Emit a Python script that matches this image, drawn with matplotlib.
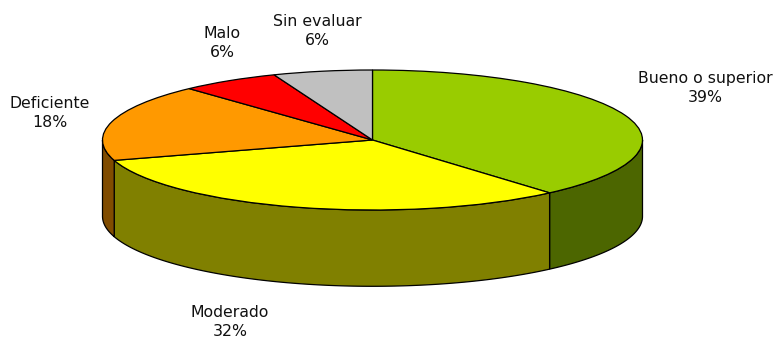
import numpy as np
import matplotlib
matplotlib.use('Agg')
import matplotlib.pyplot as plt
from matplotlib.patches import Polygon

# Estado de las masas de agua (porcentaje)
categorias = ['Bueno o superior', 'Moderado', 'Deficiente', 'Malo', 'Sin evaluar']
porcentajes = [39, 32, 18, 6, 6]
colores = ['#99CC00', '#FFFF00', '#FF9900', '#FF0000', '#C0C0C0']
colores_lado = ['#4C6600', '#808000', '#804C00', '#800000', '#606060']

# posiciones de las etiquetas (coordenadas de datos)
pos_etiquetas = [(1.232, 0.743), (-0.528, -2.6), (-1.194, 0.386), (-0.557, 1.386), (-0.204, 1.557)]

profundidad = 1.09  # grosor del disco, en unidades del radio vertical

fig = plt.figure(figsize=(7.81, 3.42), dpi=100)
ax = fig.add_axes([0, 0, 1, 1])

cunas, _ = ax.pie(porcentajes, colors=colores, startangle=90, counterclock=False,
                  wedgeprops=dict(edgecolor='black', linewidth=0.9), radius=1)
ax.set_aspect('auto')
ax.set_xlim(-372.5 / 270, (781 - 372.5) / 270)
ax.set_ylim(-(342 - 140) / 70, 140 / 70)
ax.axis('off')

# caras laterales: solo la mitad frontal (180°-360°) es visible
for cuna, c_lado in zip(cunas, colores_lado):
    a, b = cuna.theta1, cuna.theta2
    lo, hi = max(a, 180), min(b, 360)
    if a < 0:
        lo, hi = max(a + 360, 180), min(b + 360, 360)
    if hi <= lo:
        continue
    t = np.radians(np.linspace(lo, hi, 120))
    x = np.cos(t)
    y = np.sin(t)
    pts = np.concatenate([np.column_stack([x, y]),
                          np.column_stack([x[::-1], y[::-1] - profundidad])])
    ax.add_patch(Polygon(pts, closed=True, facecolor=c_lado, edgecolor='black',
                         linewidth=0.9, zorder=0.5))

for cuna in cunas:
    cuna.set_zorder(2)

for nombre, pct, (px, py) in zip(categorias, porcentajes, pos_etiquetas):
    ax.text(px, py, f'{nombre}\n{pct}%', ha='center', va='center',
            fontsize=11.3, linespacing=1.4, color='#111111')

fig.savefig('out.png', dpi=100)
